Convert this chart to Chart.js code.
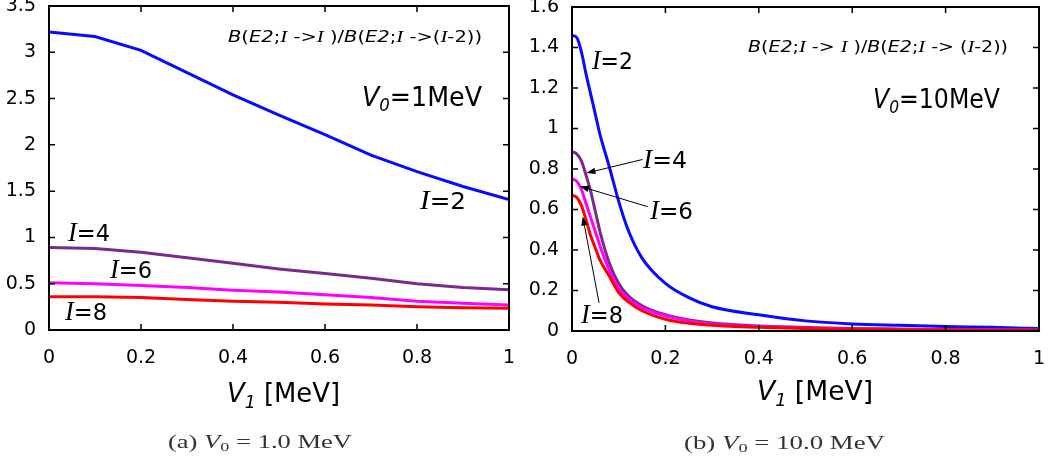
<!DOCTYPE html>
<html>
<head>
<meta charset="utf-8">
<script src="https://cdn.jsdelivr.net/npm/chart.js@4.4.1/dist/chart.umd.min.js"></script>
<style>
  body { margin: 0; background: #fff; width: 1051px; height: 466px; overflow: hidden; position: relative; }
  canvas { position: absolute; top: 0; }
  #leftChart { left: 0; }
  #rightChart { left: 525px; }
</style>
</head>
<body>
<canvas id="leftChart" width="525" height="466"></canvas>
<canvas id="rightChart" width="526" height="466"></canvas>
<script>
// V1 [MeV] grid and B(E2;I->I)/B(E2;I->(I-2)) ratios, panel (a) V0 = 1 MeV
const v1Left = [0, 0.1, 0.2, 0.3, 0.4, 0.5, 0.6, 0.7, 0.8, 0.9, 1.0];
const leftI2 = [3.22, 3.17, 3.02, 2.78, 2.54, 2.32, 2.11, 1.89, 1.71, 1.55, 1.41];
const leftI4 = [0.89, 0.88, 0.84, 0.78, 0.72, 0.66, 0.61, 0.56, 0.50, 0.46, 0.435];
const leftI6 = [0.51, 0.50, 0.48, 0.46, 0.43, 0.41, 0.38, 0.35, 0.31, 0.29, 0.27];
const leftI8 = [0.36, 0.36, 0.35, 0.33, 0.31, 0.30, 0.28, 0.27, 0.25, 0.24, 0.235];

// panel (b) V0 = 10 MeV
const v1Right = [0, 0.01, 0.02, 0.03, 0.04, 0.05, 0.06, 0.08, 0.1, 0.12, 0.15, 0.2, 0.25, 0.3, 0.4, 0.5, 0.6, 0.7, 0.8, 0.9, 1.0];
const rightI2 = [1.46, 1.45, 1.38, 1.27, 1.17, 1.07, 0.97, 0.81, 0.64, 0.50, 0.36, 0.235, 0.165, 0.12, 0.08, 0.05, 0.035, 0.028, 0.022, 0.018, 0.012];
const rightI4 = [0.885, 0.875, 0.84, 0.77, 0.69, 0.59, 0.49, 0.335, 0.235, 0.175, 0.125, 0.08, 0.055, 0.04, 0.025, 0.018, 0.012, 0.01, 0.008, 0.006, 0.005];
const rightI6 = [0.75, 0.74, 0.70, 0.63, 0.56, 0.49, 0.42, 0.30, 0.21, 0.16, 0.115, 0.075, 0.05, 0.035, 0.022, 0.015, 0.01, 0.008, 0.006, 0.005, 0.004];
const rightI8 = [0.67, 0.66, 0.62, 0.55, 0.47, 0.41, 0.35, 0.27, 0.19, 0.145, 0.10, 0.058, 0.038, 0.028, 0.018, 0.012, 0.008, 0.006, 0.005, 0.004, 0.003];

const colors = ['#0a0aff', '#7a2a8c', '#ff00ff', '#ff0000'];

// fonts
const sans = s => `${s}px "DejaVu Sans"`;
const sansIt = s => `italic ${s}px "DejaVu Sans"`;
const serif = s => `${s}px "Liberation Serif"`;
const serifIt = s => `italic ${s}px "Liberation Serif"`;

// draw a run of mixed-font text squeezed between x0 and x1
function drawRich(ctx, spec, offset) {
    ctx.save();
    let w = 0;
    spec.parts.forEach(p => { ctx.font = p[1]; w += ctx.measureText(p[0]).width; });
    ctx.translate(spec.x0 - offset, spec.base);
    ctx.scale((spec.x1 - spec.x0) / w, 1);
    ctx.fillStyle = spec.color || '#000';
    ctx.textBaseline = 'alphabetic';
    let cx = 0;
    spec.parts.forEach(p => {
        ctx.font = p[1];
        ctx.fillText(p[0], cx, p[2] || 0);
        cx += ctx.measureText(p[0]).width;
    });
    ctx.restore();
}

function iLabel(n, x0, x1, base) {
    return { x0, x1, base, parts: [['I', serifIt(27)], ['=' + n, sans(23)]] };
}

function ratioLabel(x0, x1, base, wide) {
    const S = sans(15), SI = sansIt(15), RI = serifIt(16);
    return { x0, x1, base, parts: [
        ['B', SI], ['(', S], ['E2', SI], [';', S], ['I', RI], [wide ? ' -> ' : ' ->', S], ['I', RI], [' )/', S],
        ['B', SI], ['(', S], ['E2', SI], [';', S], ['I', RI], [wide ? ' -> (' : ' ->(', S], ['I', RI], ['-2))', S]
    ] };
}

// frame with inward ticks on all four sides
const frameTicks = {
    id: 'frameTicks',
    afterDatasetsDraw(chart) {
        const { ctx, chartArea: a, scales: { x, y } } = chart;
        ctx.save();
        ctx.strokeStyle = '#000';
        ctx.lineWidth = 1.5;
        ctx.beginPath();
        x.ticks.forEach(t => {
            const px = x.getPixelForValue(t.value);
            if (px <= a.left + 1 || px >= a.right - 1) return;
            ctx.moveTo(px, a.bottom); ctx.lineTo(px, a.bottom - 6);
            ctx.moveTo(px, a.top); ctx.lineTo(px, a.top + 6);
        });
        y.ticks.forEach(t => {
            const py = y.getPixelForValue(t.value);
            if (py <= a.top + 1 || py >= a.bottom - 1) return;
            ctx.moveTo(a.left, py); ctx.lineTo(a.left + 6, py);
            ctx.moveTo(a.right, py); ctx.lineTo(a.right - 6, py);
        });
        ctx.stroke();
        ctx.lineWidth = 2;
        ctx.strokeRect(a.left, a.top, a.right - a.left, a.bottom - a.top);
        ctx.restore();
    }
};

function annotations(offset, texts, arrows) {
    return {
        id: 'annotations',
        afterDraw(chart) {
            const { ctx, scales: { x, y } } = chart;
            texts.forEach(t => drawRich(ctx, t, offset));
            arrows.forEach(ar => {
                const x1 = x.getPixelForValue(ar.from[0]), y1 = y.getPixelForValue(ar.from[1]);
                const x2 = x.getPixelForValue(ar.to[0]), y2 = y.getPixelForValue(ar.to[1]);
                const ang = Math.atan2(y2 - y1, x2 - x1);
                ctx.save();
                ctx.strokeStyle = '#000';
                ctx.fillStyle = '#000';
                ctx.lineWidth = 1;
                ctx.beginPath();
                ctx.moveTo(x1, y1);
                ctx.lineTo(x2 - 7 * Math.cos(ang), y2 - 7 * Math.sin(ang));
                ctx.stroke();
                ctx.beginPath();
                ctx.moveTo(x2, y2);
                ctx.lineTo(x2 - 9 * Math.cos(ang) + 3.2 * Math.sin(ang), y2 - 9 * Math.sin(ang) - 3.2 * Math.cos(ang));
                ctx.lineTo(x2 - 9 * Math.cos(ang) - 3.2 * Math.sin(ang), y2 - 9 * Math.sin(ang) + 3.2 * Math.cos(ang));
                ctx.closePath();
                ctx.fill();
                ctx.restore();
            });
        }
    };
}

const tickFont = { family: 'DejaVu Sans', size: 19 };
const tickText = v => String(Number(v.toFixed(2)));

function makeChart(id, cfg) {
    return new Chart(document.getElementById(id), {
        type: 'line',
        data: {
            datasets: cfg.series.map((vals, i) => ({
                data: cfg.xs.map((xv, j) => ({ x: xv, y: vals[j] })),
                borderColor: colors[i],
                borderWidth: 3,
                pointRadius: 0,
                fill: false,
                tension: 0,
                cubicInterpolationMode: cfg.smooth ? 'monotone' : 'default',
                order: cfg.series.length - 1 - i
            }))
        },
        options: {
            responsive: false,
            animation: false,
            layout: { padding: cfg.padding },
            plugins: { legend: { display: false }, tooltip: { enabled: false } },
            scales: {
                x: {
                    type: 'linear', min: 0, max: 1,
                    ticks: { stepSize: 0.2, padding: 17, color: '#000', font: tickFont, maxRotation: 0, callback: tickText },
                    grid: { display: false, drawTicks: false },
                    border: { display: false },
                    afterFit: s => { s.height = 40; s.paddingLeft = 0; s.paddingRight = 0; }
                },
                y: {
                    min: 0, max: cfg.yMax,
                    ticks: { stepSize: cfg.yStep, padding: 13, color: '#000', font: tickFont, callback: tickText },
                    grid: { display: false, drawTicks: false },
                    border: { display: false },
                    afterFit: s => { s.width = cfg.yWidth; s.paddingTop = 0; s.paddingBottom = 0; }
                }
            }
        },
        plugins: [frameTicks, annotations(cfg.offset, cfg.texts, cfg.arrows)]
    });
}

// (a) V0 = 1 MeV
makeChart('leftChart', {
    xs: v1Left,
    series: [leftI2, leftI4, leftI6, leftI8],
    yMax: 3.5, yStep: 0.5, yWidth: 49,
    padding: { left: 0, top: 6, right: 16, bottom: 96 },
    offset: 0,
    smooth: false,
    texts: [
        ratioLabel(228, 482, 42, false),
        { x0: 362, x1: 482, base: 106, parts: [['V', sansIt(26)], ['0', sansIt(17), 5], ['=1MeV', sans(26)]] },
        iLabel(2, 420, 466, 209),
        iLabel(4, 68, 110, 241),
        iLabel(6, 110, 152, 278),
        iLabel(8, 65, 107, 320),
        { x0: 227, x1: 340, base: 402, parts: [['V', sansIt(27)], ['1', sansIt(18), 6], [' [MeV]', sans(27)]] },
        { x0: 168, x1: 352, base: 448, color: '#333', parts: [['(a) ', serif(19)], ['V', serifIt(19)], ['0', serif(13), 3], [' = 1.0 MeV', serif(19)]] }
    ],
    arrows: []
});

// (b) V0 = 10 MeV
makeChart('rightChart', {
    xs: v1Right,
    series: [rightI2, rightI4, rightI6, rightI8],
    yMax: 1.6, yStep: 0.2, yWidth: 47,
    padding: { left: 0, top: 7, right: 12, bottom: 95 },
    offset: 525,
    smooth: true,
    texts: [
        ratioLabel(748, 1008, 52, true),
        { x0: 873, x1: 1000, base: 108, parts: [['V', sansIt(26)], ['0', sansIt(17), 5], ['=10MeV', sans(26)]] },
        iLabel(2, 592, 633, 69),
        iLabel(4, 643, 687, 168),
        iLabel(6, 650, 693, 219),
        iLabel(8, 581, 623, 323),
        { x0: 757, x1: 873, base: 400, parts: [['V', sansIt(27)], ['1', sansIt(18), 6], [' [MeV]', sans(27)]] },
        { x0: 684, x1: 885, base: 449, color: '#333', parts: [['(b) ', serif(19)], ['V', serifIt(19)], ['0', serif(13), 3], [' = 10.0 MeV', serif(19)]] }
    ],
    arrows: [
        { from: [0.151, 0.847], to: [0.031, 0.78] },
        { from: [0.162, 0.614], to: [0.017, 0.715] },
        { from: [0.058, 0.139], to: [0.023, 0.565] }
    ]
});
</script>
</body>
</html>
